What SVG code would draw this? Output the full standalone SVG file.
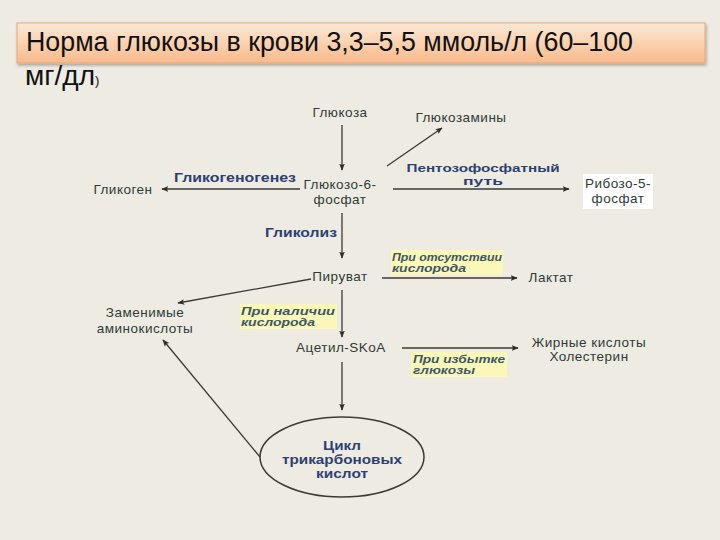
<svg xmlns="http://www.w3.org/2000/svg" width="720" height="540" viewBox="0 0 720 540">
<defs>
<linearGradient id="tg" x1="0" y1="0" x2="0" y2="1">
<stop offset="0" stop-color="#fde8d6"/>
<stop offset="0.5" stop-color="#fbd2b0"/>
<stop offset="1" stop-color="#f8b98a"/>
</linearGradient>
<filter id="sh" x="-5%" y="-20%" width="110%" height="150%">
<feDropShadow dx="1" dy="2" stdDeviation="1.5" flood-color="#000" flood-opacity="0.3"/>
</filter>
<marker id="ah" viewBox="0 0 10 10" refX="9" refY="5" markerWidth="7" markerHeight="7" orient="auto" markerUnits="userSpaceOnUse">
<path d="M0,1 L10,5 L0,9 L2,5 Z" fill="#2e2e2a"/>
</marker>
</defs>
<style>
.n{font-family:"Liberation Sans",Arial,sans-serif;font-size:13.5px;fill:#2f3b37;text-anchor:middle;letter-spacing:0.5px}
.b{font-family:"Liberation Sans",Arial,sans-serif;font-size:12px;font-weight:bold;fill:#2d3f74;text-anchor:middle}
.s{font-size:11px}
.t{font-size:13px}
.i{font-family:"Liberation Sans",Arial,sans-serif;font-size:11px;font-weight:bold;font-style:italic;fill:#3b5866}
.c{stroke:#3a3a36;stroke-width:1.3;fill:none}
.hl{fill:#fbf7b8}
</style>
<rect width="720" height="540" fill="#eeebe2"/>
<g id="title">
<rect x="17" y="23" width="688" height="40" fill="url(#tg)" stroke="#eaa77a" stroke-width="1" filter="url(#sh)"/>
<text x="26" y="51" font-family="'Liberation Sans',Arial,sans-serif" font-size="27" fill="#111" textLength="607" lengthAdjust="spacingAndGlyphs">Норма глюкозы в крови 3,3–5,5 ммоль/л (60–100</text>
<text x="25" y="85" font-family="'Liberation Sans',Arial,sans-serif" font-size="27" fill="#111" textLength="70" lengthAdjust="spacingAndGlyphs">мг/дл</text>
<text x="95" y="85" font-family="'Liberation Sans',Arial,sans-serif" font-size="13" fill="#111">)</text>
</g>
<g id="connectors">
<line class="c" x1="342" y1="125" x2="342" y2="170" marker-end="url(#ah)"/>
<line class="c" x1="387" y1="166" x2="442" y2="128" marker-end="url(#ah)"/>
<line class="c" x1="300" y1="189" x2="162" y2="189" marker-end="url(#ah)"/>
<line class="c" x1="393" y1="189" x2="569" y2="189" marker-end="url(#ah)"/>
<line class="c" x1="342" y1="213" x2="342" y2="258" marker-end="url(#ah)"/>
<line class="c" x1="311" y1="279" x2="178" y2="303" marker-end="url(#ah)"/>
<line class="c" x1="382" y1="278" x2="517" y2="278" marker-end="url(#ah)"/>
<line class="c" x1="342" y1="290" x2="342" y2="337" marker-end="url(#ah)"/>
<line class="c" x1="402" y1="348" x2="518" y2="348" marker-end="url(#ah)"/>
<line class="c" x1="342" y1="362" x2="342" y2="410" marker-end="url(#ah)"/>
<line class="c" x1="260" y1="457" x2="163" y2="340" marker-end="url(#ah)"/>
</g>
<g id="glucose"><text class="n" x="340" y="117">Глюкоза</text></g>
<g id="glucosamines"><text class="n" x="461" y="122">Глюкозамины</text></g>
<g id="g6p"><text class="n" x="340" y="189">Глюкозо-6-</text><text class="n" x="340" y="204">фосфат</text></g>
<g id="glycogen"><text class="n" x="123" y="194">Гликоген</text></g>
<g id="glycogenesis-label"><text class="b" x="235" y="182" textLength="122" lengthAdjust="spacingAndGlyphs">Гликогеногенез</text></g>
<g id="ppp-label"><text class="b s" x="483" y="172" textLength="153" lengthAdjust="spacingAndGlyphs">Пентозофосфатный</text><text class="b s" x="483" y="185" textLength="40" lengthAdjust="spacingAndGlyphs">путь</text></g>
<g id="r5p"><rect x="583" y="174" width="70" height="35" fill="#ffffff"/><text class="n" x="618" y="188">Рибозо-5-</text><text class="n" x="618" y="203">фосфат</text></g>
<g id="glycolysis-label"><text class="b" x="301" y="237" textLength="72" lengthAdjust="spacingAndGlyphs">Гликолиз</text></g>
<g id="pyruvate"><text class="n" x="340" y="281">Пируват</text></g>
<g id="no-oxygen"><rect class="hl" x="391" y="250" width="112" height="25"/><text class="i" x="392" y="261" textLength="110" lengthAdjust="spacingAndGlyphs">При отсутствии</text><text class="i" x="392" y="272" textLength="74" lengthAdjust="spacingAndGlyphs">кислорода</text></g>
<g id="lactate"><text class="n" x="551" y="282">Лактат</text></g>
<g id="aminoacids"><text class="n" x="145" y="317">Заменимые</text><text class="n" x="145" y="333">аминокислоты</text></g>
<g id="oxygen"><rect class="hl" x="240" y="304" width="97" height="25"/><text class="i" x="241" y="315" textLength="94" lengthAdjust="spacingAndGlyphs">При наличии</text><text class="i" x="241" y="326" textLength="74" lengthAdjust="spacingAndGlyphs">кислорода</text></g>
<g id="acetyl"><text class="n" x="341" y="352">Ацетил-SKoA</text></g>
<g id="fatty"><text class="n" x="589" y="347">Жирные кислоты</text><text class="n" x="589" y="361">Холестерин</text></g>
<g id="excess"><rect class="hl" x="411" y="352" width="96" height="25"/><text class="i" x="413" y="363" textLength="92" lengthAdjust="spacingAndGlyphs">При избытке</text><text class="i" x="413" y="374" textLength="62" lengthAdjust="spacingAndGlyphs">глюкозы</text></g>
<g id="tca"><ellipse cx="342" cy="457" rx="82" ry="40" fill="none" stroke="#3a3a36" stroke-width="1.5"/><text class="b t" x="342" y="450" textLength="38" lengthAdjust="spacingAndGlyphs">Цикл</text><text class="b t" x="342" y="464" textLength="120" lengthAdjust="spacingAndGlyphs">трикарбоновых</text><text class="b t" x="342" y="478" textLength="52" lengthAdjust="spacingAndGlyphs">кислот</text></g>
</svg>
